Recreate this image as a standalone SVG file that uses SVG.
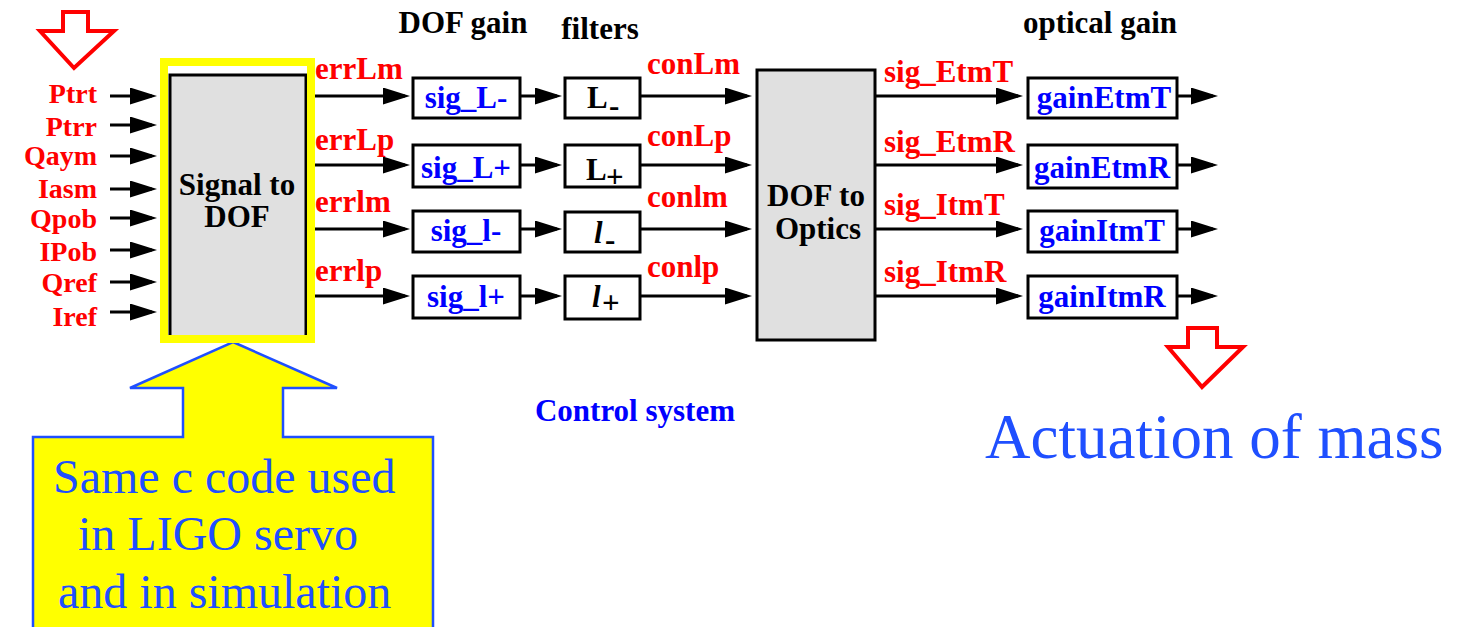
<svg xmlns="http://www.w3.org/2000/svg" width="1461" height="627" viewBox="0 0 1461 627">
<style>
text{font-family:'Liberation Serif','DejaVu Serif',serif}
.b{font-weight:bold;font-size:31px}
.in{font-size:28px}
.red{fill:#ff0000}
.blu{fill:#0000ff}
.blk{fill:#000}
.mid{text-anchor:middle}
.end{text-anchor:end}
.box{fill:#fff;stroke:#000;stroke-width:3}
.grey{fill:#e0e0e0;stroke:#000;stroke-width:3}
.ln{stroke:#000;stroke-width:3;fill:none;marker-end:url(#ah)}
.big{fill:#1f4fff;font-weight:normal}
.hollow{fill:#fff;stroke:#ff0000;stroke-width:4;stroke-linejoin:miter}
</style>
<defs>
<marker id="ah" viewBox="0 0 27 17" refX="22" refY="8.5" markerWidth="27" markerHeight="17" markerUnits="userSpaceOnUse" orient="auto">
<path d="M0,0 L27,8.5 L0,17 Z" fill="#000"/>
</marker>
</defs>
<rect width="1461" height="627" fill="#fff"/>

<g id="arrow-in">
<polygon class="hollow" points="63,12 88,12 88,31 114,31 74,68 40,31 63,31"/>
</g>
<g id="arrow-out">
<polygon class="hollow" points="1188,328 1217,328 1217,347 1243,347 1202,387 1168,347 1188,347"/>
</g>

<g id="callout">
<polygon points="233,342 337,388 283,388 283,437 433,437 433,640 33,640 33,437 183,437 183,388 130,388" fill="#ffff00" stroke="#1f4fff" stroke-width="2.5"/>
<text class="big" x="53" y="493" font-size="48">Same c code used</text>
<text class="big" x="78" y="550" font-size="48">in LIGO servo</text>
<text class="big" x="58" y="608" font-size="48">and in simulation</text>
</g>

<g id="inputs">
<text class="b in red end" x="97" y="103">Ptrt</text>
<text class="b in red end" x="97" y="136">Ptrr</text>
<text class="b in red end" x="97" y="165">Qaym</text>
<text class="b in red end" x="97" y="198">Iasm</text>
<text class="b in red end" x="97" y="228">Qpob</text>
<text class="b in red end" x="97" y="261">IPob</text>
<text class="b in red end" x="97" y="292">Qref</text>
<text class="b in red end" x="97" y="326">Iref</text>
</g>

<g id="signal-to-dof">
<rect class="grey" x="170" y="75" width="136" height="263"/>
<rect x="164" y="62" width="147" height="277" fill="none" stroke="#ffff00" stroke-width="8"/>
<text class="b blk mid" x="237" y="195" font-size="32">Signal to</text>
<text class="b blk mid" x="237" y="227" font-size="32">DOF</text>
</g>

<g id="headers">
<text class="b blk mid" x="463" y="33">DOF gain</text>
<text class="b blk mid" x="600" y="39">filters</text>
<text class="b blk mid" x="1100" y="33">optical gain</text>
<text class="b blu mid" x="635" y="421">Control system</text>
</g>

<g id="sig_L-"><rect class="box" x="413" y="78" width="107" height="40"/><text class="b blu mid" x="466" y="108">sig_L-</text></g>
<g id="sig_L+"><rect class="box" x="413" y="145" width="107" height="42"/><text class="b blu mid" x="466" y="178">sig_L+</text></g>
<g id="sig_l-"><rect class="box" x="413" y="211" width="107" height="41"/><text class="b blu mid" x="466" y="241">sig_l-</text></g>
<g id="sig_l+"><rect class="box" x="413" y="276" width="107" height="42"/><text class="b blu mid" x="466" y="307">sig_l+</text></g>

<g id="filter_Lm"><rect class="box" x="565" y="78" width="75" height="40"/><text class="b blk" x="587" y="108">L</text><text class="b blk" x="609" y="116" font-size="20">-</text></g>
<g id="filter_Lp"><rect class="box" x="565" y="145" width="75" height="42"/><text class="b blk" x="586" y="180">L</text><text class="b blk" x="606" y="187" font-size="22">+</text></g>
<g id="filter_lm"><rect class="box" x="565" y="212" width="75" height="40"/><text class="b blk" x="594" y="243" font-style="italic">l</text><text class="b blk" x="605" y="250" font-size="20">-</text></g>
<g id="filter_lp"><rect class="box" x="565" y="276" width="75" height="43"/><text class="b blk" x="592" y="307" font-style="italic">l</text><text class="b blk" x="602" y="313" font-size="22">+</text></g>

<g id="dof-to-optics">
<rect class="grey" x="757" y="70" width="118" height="270"/>
<text class="b blk mid" x="816" y="206" font-size="30">DOF to</text>
<text class="b blk mid" x="818" y="239" font-size="30">Optics</text>
</g>

<g id="gainEtmT"><rect class="box" x="1028" y="78" width="149" height="40"/><text class="b blu mid" x="1104" y="108">gainEtmT</text></g>
<g id="gainEtmR"><rect class="box" x="1028" y="145" width="149" height="43"/><text class="b blu mid" x="1102" y="178">gainEtmR</text></g>
<g id="gainItmT"><rect class="box" x="1028" y="211" width="149" height="41"/><text class="b blu mid" x="1102" y="241">gainItmT</text></g>
<g id="gainItmR"><rect class="box" x="1028" y="276" width="149" height="42"/><text class="b blu mid" x="1102" y="307">gainItmR</text></g>

<g id="connectors">
<line class="ln" x1="110" y1="96" x2="152" y2="96"/>
<line class="ln" x1="110" y1="125" x2="152" y2="125"/>
<line class="ln" x1="110" y1="156" x2="152" y2="156"/>
<line class="ln" x1="110" y1="189" x2="152" y2="189"/>
<line class="ln" x1="110" y1="218" x2="152" y2="218"/>
<line class="ln" x1="110" y1="250" x2="152" y2="250"/>
<line class="ln" x1="110" y1="282" x2="152" y2="282"/>
<line class="ln" x1="110" y1="312" x2="152" y2="312"/>

<line class="ln" x1="315" y1="96" x2="405" y2="96"/>
<line class="ln" x1="315" y1="165" x2="405" y2="165"/>
<line class="ln" x1="315" y1="229" x2="405" y2="229"/>
<line class="ln" x1="315" y1="296" x2="405" y2="296"/>

<line class="ln" x1="520" y1="96" x2="557" y2="96"/>
<line class="ln" x1="520" y1="165" x2="557" y2="165"/>
<line class="ln" x1="520" y1="229" x2="557" y2="229"/>
<line class="ln" x1="520" y1="296" x2="557" y2="296"/>

<line class="ln" x1="640" y1="96" x2="747" y2="96"/>
<line class="ln" x1="640" y1="165" x2="747" y2="165"/>
<line class="ln" x1="640" y1="229" x2="747" y2="229"/>
<line class="ln" x1="640" y1="296" x2="747" y2="296"/>

<line class="ln" x1="875" y1="96" x2="1018" y2="96"/>
<line class="ln" x1="875" y1="165" x2="1018" y2="165"/>
<line class="ln" x1="875" y1="229" x2="1018" y2="229"/>
<line class="ln" x1="875" y1="296" x2="1018" y2="296"/>

<line class="ln" x1="1177" y1="96" x2="1213" y2="96"/>
<line class="ln" x1="1177" y1="165" x2="1213" y2="165"/>
<line class="ln" x1="1177" y1="229" x2="1213" y2="229"/>
<line class="ln" x1="1177" y1="296" x2="1213" y2="296"/>

<text class="b red" x="315" y="79">errLm</text>
<text class="b red" x="315" y="150">errLp</text>
<text class="b red" x="315" y="212">errlm</text>
<text class="b red" x="315" y="281">errlp</text>

<text class="b red" x="647" y="74">conLm</text>
<text class="b red" x="647" y="146">conLp</text>
<text class="b red" x="647" y="207">conlm</text>
<text class="b red" x="647" y="277">conlp</text>

<text class="b red" x="884" y="82">sig_EtmT</text>
<text class="b red" x="884" y="152">sig_EtmR</text>
<text class="b red" x="884" y="215">sig_ItmT</text>
<text class="b red" x="884" y="282">sig_ItmR</text>
</g>

<text class="big" x="985" y="458" font-size="63">Actuation of mass</text>
</svg>
